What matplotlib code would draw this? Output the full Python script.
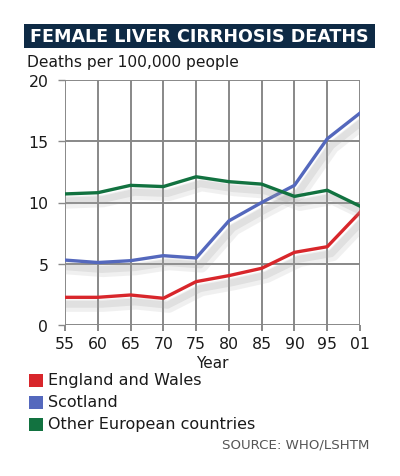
import matplotlib
matplotlib.use("Agg")
import matplotlib.pyplot as plt
import matplotlib.patheffects as pe
from matplotlib.patches import Rectangle

years = ["55", "60", "65", "70", "75", "80", "85", "90", "95", "01"]
england_wales = [2.26, 2.26, 2.45, 2.18, 3.54, 4.03, 4.63, 5.93, 6.39, 9.2]
scotland = [5.3, 5.1, 5.25, 5.66, 5.47, 8.5, 10.0, 11.4, 15.2, 17.3]
other_europe = [10.7, 10.8, 11.4, 11.3, 12.1, 11.7, 11.5, 10.5, 11.0, 9.7]
yticks = [0, 5, 10, 15, 20]
series_names = ["England and Wales", "Scotland", "Other European countries"]
colors = ["#d8262b", "#5468bd", "#127240"]

fig = plt.figure(figsize=(4.0, 4.77), dpi=100)
fig.patch.set_facecolor("white")
W, H = 400, 477
FONT = "DejaVu Sans"

def fx(px):
    return px / W

def fy(py):
    return 1 - py / H

# Title bar
fig.patches.append(Rectangle((fx(24), fy(49)), fx(375) - fx(24), fy(25) - fy(49),
                             transform=fig.transFigure, facecolor="#0e2a45",
                             edgecolor="none", zorder=0))
fig.text(fx(199), fy(37.5), "FEMALE LIVER CIRRHOSIS DEATHS", color="white",
         fontsize=12.6, fontweight="bold", family="DejaVu Sans",
         ha="center", va="center")
fig.text(fx(27), fy(62), "Deaths per 100,000 people", fontsize=11.2,
         family=FONT, ha="left", va="center", color="#1a1a1a")

ax = fig.add_axes([fx(65), fy(326), fx(360) - fx(65), fy(81) - fy(326)])
x = list(range(len(years)))
shadow = [pe.SimpleLineShadow(offset=(4, -6), shadow_color="#a0a0a0", alpha=0.15, linewidth=9),
          pe.SimpleLineShadow(offset=(3, -5), shadow_color="#a0a0a0", alpha=0.2, linewidth=5),
          pe.Normal()]
for vals, c in zip([england_wales, scotland, other_europe], colors):
    ax.plot(x, vals, color=c, lw=2.4, solid_joinstyle="round", zorder=3,
            path_effects=shadow)

ax.set_xlim(0, len(years) - 1)
ax.set_ylim(0, 20)
ax.set_xticks(x)
ax.set_xticklabels(years)
ax.set_yticks(yticks)
ax.grid(True, color="#888888", lw=1.4, zorder=0)
for s in ax.spines.values():
    s.set_visible(False)
ax.tick_params(axis="y", length=5, width=1, color="#888888",
               labelsize=11.3, labelcolor="#1a1a1a", pad=7)
ax.tick_params(axis="x", length=4, width=1.4, color="#888888",
               labelsize=11.3, labelcolor="#1a1a1a", pad=4)
for lab in ax.get_xticklabels() + ax.get_yticklabels():
    lab.set_family(FONT)
ax.set_xlabel("Year", fontsize=11, family=FONT, labelpad=3, color="#1a1a1a")

# Legend
ys = [381, 403, 425]
for name, c, yy in zip(series_names, colors, ys):
    fig.patches.append(Rectangle((fx(29), fy(yy + 6.5)), fx(14), fy(0) - fy(13),
                                 transform=fig.transFigure, facecolor=c,
                                 edgecolor="none"))
    fig.text(fx(48), fy(yy), name, fontsize=11.5, family=FONT,
             ha="left", va="center", color="#1a1a1a")

fig.text(fx(369), fy(445), "SOURCE: WHO/LSHTM", fontsize=9.6, family=FONT,
         ha="right", va="center", color="#555555")

fig.savefig("out.png", dpi=100, facecolor="white")
